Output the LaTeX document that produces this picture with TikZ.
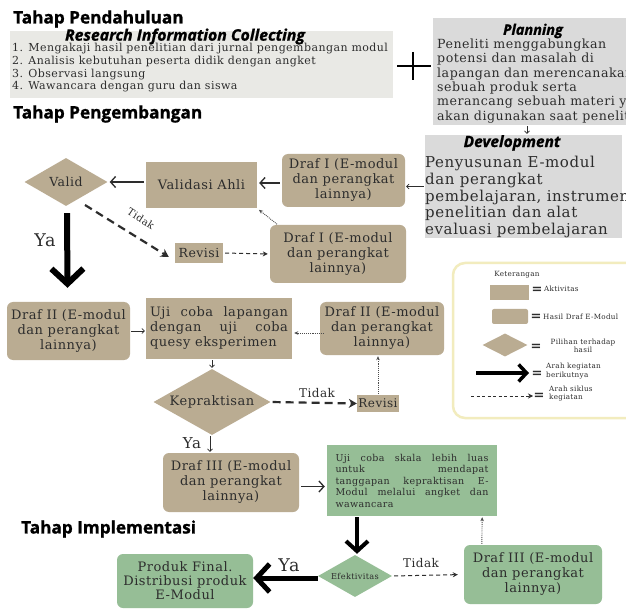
\documentclass[tikz,border=0pt]{standalone}
\usepackage{fontspec}
\setmainfont{DejaVu Serif}[LetterSpace=4]
\newfontfamily\headfont{Open Sans}[BoldFeatures={FakeBold=1.2},BoldItalicFeatures={FakeBold=1.2}]
\usetikzlibrary{shapes.geometric,arrows.meta,calc}
\definecolor{tan}{RGB}{186,172,146}
\definecolor{lgray}{RGB}{233,233,229}
\definecolor{mgray}{RGB}{218,218,218}
\definecolor{grn}{RGB}{150,190,150}
\definecolor{ink}{RGB}{45,45,45}
\definecolor{legbd}{RGB}{242,236,190}
\newcommand{\fsz}[2]{\fontsize{#1}{#2}\selectfont}
\begin{document}
\begin{tikzpicture}[x=1pt,y=-1pt,
  head/.style={font=\headfont\bfseries\fsz{17.2}{19}, inner sep=0pt, text=black},
  ttl/.style={font=\headfont\bfseries\itshape\fsz{14.5}{17}, inner sep=0pt, text=black},
  box/.style={fill=tan, inner sep=0pt, align=center, text=ink},
  rbox/.style={box, rounded corners=6pt},
  gbox/.style={box, fill=grn, rounded corners=6pt},
  dia/.style={diamond, fill=tan, inner sep=0pt, text=ink},
  tarr/.style={draw=ink, line width=0.7pt, -{Straight Barb[length=2.5pt,width=5pt]}, shorten <=1pt, shorten >=1pt},
  marr/.style={draw=ink, line width=1.3pt, -{Straight Barb[length=5pt,width=11pt]}, shorten <=2pt, shorten >=2pt},
  dotarr/.style={draw=ink!85, densely dotted, line width=0.9pt, -{Stealth[length=4pt,width=3.5pt]}, shorten <=1pt, shorten >=1pt},
  dasharr/.style={draw=ink, line width=2.2pt, dash pattern=on 8pt off 5pt, -{Stealth[length=8pt,width=9pt]}},
  tdash/.style={draw=ink, line width=1pt, dash pattern=on 4pt off 3pt, -{Stealth[length=5pt,width=5pt]}, shorten <=2pt, shorten >=2pt},
  bigarr/.style={draw=black, line width=6pt, -{Straight Barb[length=15pt,width=32pt]}},
  midarr/.style={draw=black, line width=4pt, -{Straight Barb[length=10pt,width=22pt]}},
  yaarr/.style={draw=black, line width=5pt, -{Straight Barb[length=13pt,width=28pt]}},
  eqs/.style={font=\bfseries\fsz{13}{13}, inner sep=0pt, text=ink},
  legt/.style={font=\fsz{7.2}{8.5}, inner sep=0pt, text=ink},
  lbl/.style={inner sep=0pt, text=ink}
]
\useasboundingbox (0,0) rectangle (626,609);
\fill[white] (0,0) rectangle (626,609);

% headings
\node[head, anchor=west] (h1) at (13,19) {Tahap Pendahuluan};
\node[head, anchor=west] (h2) at (13,114) {Tahap Pengembangan};
\node[head, anchor=west] (h3) at (21,529) {Tahap Implementasi};

% research information collecting
\node[fill=lgray, minimum width=383, minimum height=67, inner sep=0pt] (res) at (201.5,64.5) {};
\node[ttl, font=\headfont\bfseries\itshape\fsz{15.8}{17}] (restitle) at (185,36.5) {Research Information Collecting};
\node[anchor=north west, align=left, inner sep=0pt, text=ink, font=\fsz{11}{12.8}] (reslist) at (12,43)
  {1. Mengakaji hasil penelitian dari jurnal pengembangan modul\\
   2. Analisis kebutuhan peserta didik dengan angket\\
   3. Observasi langsung\\
   4. Wawancara dengan guru dan siswa};

% plus sign
\draw[line width=1.8pt, black] (397,66) -- (431,66) (413,52) -- (413,80);

% planning
\node[fill=mgray, minimum width=193, minimum height=107, inner sep=0pt] (plan) at (529.5,71.5) {};
\node[ttl] (pltitle) at (533,31) {Planning};
\begin{scope}
\clip (plan.north west) rectangle (plan.south east);
\node[anchor=north west, align=left, inner sep=0pt, text=ink, font=\fsz{12.6}{14.4}] (pltext) at (437,38.5)
  {Peneliti menggabungkan\\
   potensi dan masalah di\\
   lapangan dan merencanakan\\
   sebuah produk serta\\
   merancang sebuah materi yang\\
   akan digunakan saat penelitian};
\end{scope}

% development
\node[fill=mgray, minimum width=197, minimum height=103, inner sep=0pt] (dev) at (523.5,186.5) {};
\node[ttl, font=\headfont\bfseries\itshape\fsz{15.5}{17}] (devtitle) at (512,143) {Development};
\node[anchor=north west, align=left, inner sep=0pt, text=ink, font=\fsz{15}{16.8}] (devtext) at (425,156)
  {Penyusunan E-modul\\
   dan perangkat\\
   pembelajaran, instrumen\\
   penelitian dan alat\\
   evaluasi pembelajaran};
\draw[tarr] ($(plan.south)+(-2.5,0)$) -- ($(dev.north)+(3.5,0)$);

% development stage
\node[rbox, minimum width=123, minimum height=53, font=\fsz{13}{15}] (drafa) at (343.5,180.5) {Draf I (E-modul\\dan perangkat\\lainnya)};
\draw[tarr] (dev.west) -- (dev.west -| drafa.east);

\node[box, minimum width=111, minimum height=46, font=\fsz{13}{15}] (val) at (201.5,185) {Validasi Ahli};
\draw[marr] ($(drafa.west)+(0,2.5)$) -- ($(drafa.west -| val.east)+(0,2.5)$);

\node[dia, aspect=1.73, minimum width=83, minimum height=48, font=\fsz{12.5}{15}] (valid) at (66,182) {Valid};
\draw[marr] (val.west |- valid.east) -- (valid.east);

\node[box, minimum width=48, minimum height=20, font=\fsz{12.5}{15}] (rev1) at (199,253) {Revisi};
\draw[dasharr] ($(valid.center)+(19,23)$) -- ($(rev1.west)+(-6,4)$);
\node[lbl, rotate=-33, font=\fsz{10}{12}] (tid1) at (141,219) {Tidak};

\node[rbox, minimum width=136, minimum height=58, font=\fsz{13}{15}] (drafb) at (338,254) {Draf I (E-modul\\dan perangkat\\lainnya)};
\draw[tdash] (rev1.east) -- (drafb.west);
\draw[dotarr] ($(drafb.north west)+(8,0)$) -- ($(val.south east)+(1,1)$);

\node[rbox, minimum width=123, minimum height=58, font=\fsz{13}{15}] (draf2l) at (68.5,331) {Draf II (E-modul\\dan perangkat\\lainnya)};
\draw[bigarr] ($(valid.south)+(1,7)$) -- ($(draf2l.north)+(-1,-14)$);
\node[lbl, font=\fsz{17.5}{20}] (ya1) at (45,240) {Ya};

\node[box, minimum width=146, minimum height=61, font=\fsz{13}{15}, align=left] (uji) at (219,328.5)
  {\makebox[138pt][s]{Uji coba lapangan}\\\makebox[138pt][s]{dengan uji coba}\\quesy eksperimen};
\draw[tarr] (draf2l.east) -- (draf2l.east -| uji.west);

\node[rbox, minimum width=124, minimum height=53, font=\fsz{13}{15}] (draf2r) at (382,328.5) {Draf II (E-modul\\dan perangkat\\lainnya)};
\draw[dotarr] ($(draf2r.west)+(5,4.5)$) -- ($(uji.east)+(1,4.5)$);

\node[dia, aspect=1.77, minimum width=117, minimum height=66, font=\fsz{13}{15}] (kep) at (212,402) {Kepraktisan};
\draw[tarr] (kep.north |- uji.south) -- (kep.north);

\node[box, minimum width=42, minimum height=17, font=\fsz{12}{14}] (rev2) at (378,403.5) {Revisi};
\draw[dasharr, shorten <=2pt] (kep.east) -- (rev2.west);
\node[lbl, font=\fsz{12}{14}] (tid2) at (317,393) {Tidak};
\draw[dotarr] (rev2.north) -- (rev2.north |- draf2r.south);

\node[rbox, minimum width=136, minimum height=59, font=\fsz{13}{15}] (draf3l) at (231,482.5) {Draf III (E-modul\\dan perangkat\\lainnya)};
\node[lbl, font=\fsz{15}{18}] (ya2) at (192,443) {Ya};
\draw[tarr] ($(kep.south)+(-2,0)$) -- ($(kep.south |- draf3l.north)+(-2,0)$);

% implementation stage
\node[box, fill=grn, minimum width=170, minimum height=71, font=\fsz{9.5}{11.5}, align=left] (grn) at (412,480.5)
  {\makebox[153pt][s]{Uji coba skala lebih luas}\\
   \makebox[153pt][s]{untuk mendapat}\\
   \makebox[153pt][s]{tanggapan kepraktisan E-}\\
   \makebox[153pt][s]{Modul melalui angket dan}\\
   wawancara};
\draw[marr] ($(draf3l.east)+(0,4)$) -- ($(draf3l.east -| grn.west)+(0,4)$);

\node[dia, fill=grn, aspect=1.76, minimum width=74, minimum height=42, font=\fsz{8.2}{10}] (eff) at (355,576) {Efektivitas};
\draw[midarr] ($(grn.south -| eff.north)+(2,1)$) -- ($(eff.north)+(2,-1)$);

\node[gbox, minimum width=136, minimum height=54, font=\fsz{13}{14}] (prod) at (185,581) {Produk Final.\\Distribusi produk\\E-Modul};
\draw[yaarr] ($(eff.west)+(0,2)$) -- ($(eff.west -| prod.east)+(0,2)$);
\node[lbl, font=\fsz{17.5}{20}] (ya3) at (289,565) {Ya};

\node[gbox, minimum width=138, minimum height=59, font=\fsz{13}{15}] (draf3r) at (533,574.5) {Draf III (E-modul\\dan perangkat\\lainnya)};
\draw[tdash, shorten >=6pt] (eff.east) -- (draf3r.west);
\node[lbl, font=\fsz{12}{14}] (tid3) at (421,563) {Tidak};
\draw[dotarr] ($(draf3r.north west)+(18,0)$) -- ($(grn.south east)+(-15,0)$);

% legend
\node[draw=legbd, line width=2.5pt, fill=white, rounded corners=12pt, minimum width=200, minimum height=155, inner sep=0pt] (leg) at (553,340.5) {};
\node[legt] (ket) at (517,275) {Keterangan};
\node[box, minimum width=39, minimum height=15] (l1) at (509.5,292.5) {};
\node[eqs] (e1) at (537,290) {=};
\node[legt, anchor=west] (t1) at (544,289) {Aktivitas};
\node[box, rounded corners=2pt, minimum width=36, minimum height=15] (l2) at (510,316.5) {};
\node[eqs] (e2) at (536,317.5) {=};
\node[legt, anchor=west] (t2) at (543,317) {Hasil Draf E-Modul};
\node[dia, minimum width=45, minimum height=23] (l3) at (505,345) {};
\node[eqs] (e3) at (536,347) {=};
\node[legt, align=center] (t3) at (583,346) {Pilihan terhadap\\hasil};
\coordinate (a1s) at (476,373);
\coordinate (a1e) at (529,373);
\draw[draw=black, line width=3.5pt, -{Straight Barb[length=8pt,width=17pt]}] (a1s) -- (a1e);
\node[eqs] (e4) at (537,374.5) {=};
\node[legt, align=left, anchor=west] (t4) at (546,371) {Arah kegiatan\\berikutnya};
\coordinate (a2s) at (471,396);
\coordinate (a2e) at (533,396);
\draw[draw=ink, line width=0.9pt, dash pattern=on 3pt off 2.5pt, -{Stealth[length=5pt,width=5pt]}] (a2s) -- (a2e);
\node[eqs] (e5) at (539,396.5) {=};
\node[legt, align=left, anchor=west] (t5) at (549,393.5) {Arah siklus\\kegiatan};
\end{tikzpicture}
\end{document}
